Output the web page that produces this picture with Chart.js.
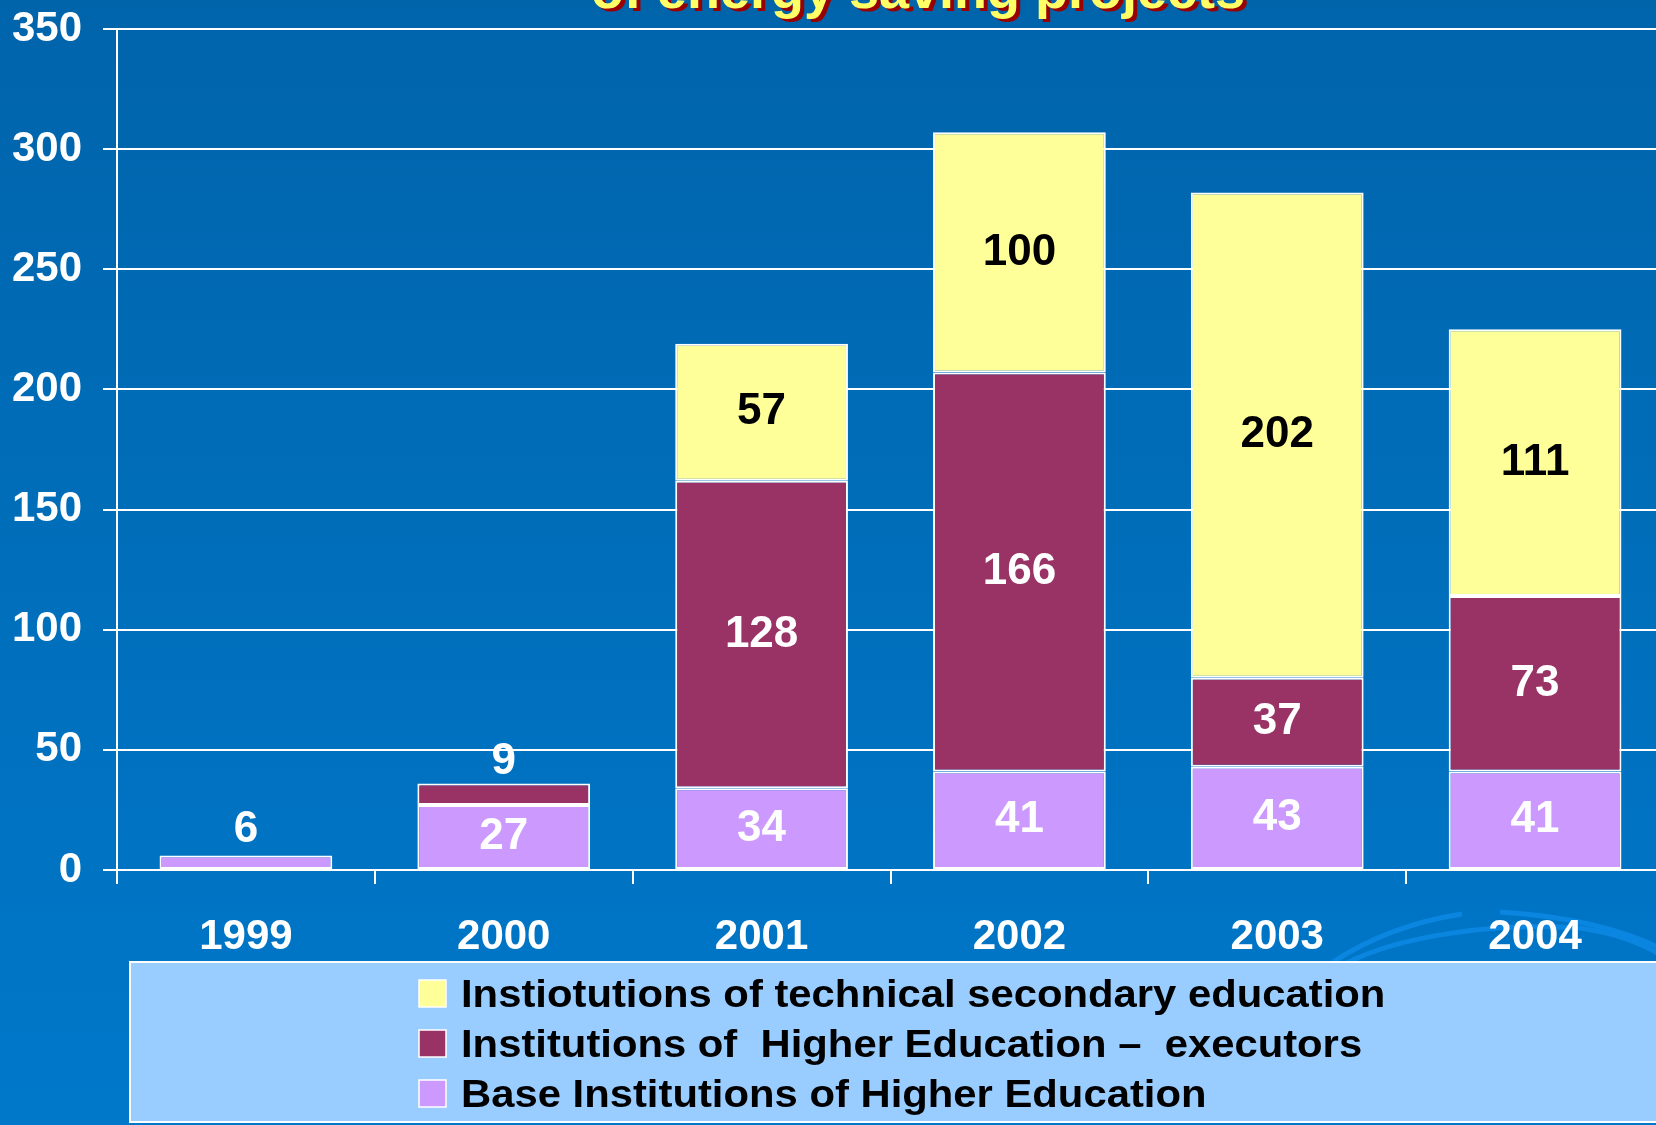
<!DOCTYPE html>
<html>
<head>
<meta charset="utf-8">
<script src="https://cdn.jsdelivr.net/npm/chart.js@4.4.1/dist/chart.umd.min.js"></script>
<style>
  html, body { margin: 0; padding: 0; overflow: hidden; background: #006EBA; }
  #wrap { width: 1664px; height: 1125px; }
</style>
</head>
<body>
<div id="wrap"><canvas id="chart" width="1664" height="1125"></canvas></div>
<script>
// data
const years = ["1999", "2000", "2001", "2002", "2003", "2004"];
const baseInstitutions = [6, 27, 34, 41, 43, 41];
const executors = [null, 9, 128, 166, 37, 73];
const technicalSecondary = [null, null, 57, 100, 202, 111];

const seriesNames = [
  "Base Institutions of Higher Education",
  "Institutions of  Higher Education \u2013  executors",
  "Instiotutions of technical secondary education"
];
const titleText = "of energy saving projects";

const COLORS = {
  base: "#CC99FF",
  exec: "#993366",
  tech: "#FFFF99"
};
const FONT = "'Liberation Sans', Arial, sans-serif";

const backdrop = {
  id: "backdrop",
  beforeDraw(chart) {
    const ctx = chart.ctx;
    const g = ctx.createLinearGradient(0, 0, 0, chart.height);
    g.addColorStop(0, "#0064AB");
    g.addColorStop(1, "#0078CA");
    ctx.save();
    ctx.fillStyle = g;
    ctx.fillRect(0, 0, chart.width, chart.height);

    // faint swirl in the lower right corner
    ctx.strokeStyle = "#0A86E0";
    ctx.lineWidth = 5;
    ctx.beginPath();
    ctx.moveTo(1333, 962);
    ctx.quadraticCurveTo(1390, 925, 1462, 914);
    ctx.moveTo(1500, 912);
    ctx.quadraticCurveTo(1600, 918, 1664, 950);
    ctx.stroke();
    ctx.beginPath();
    ctx.moveTo(1345, 964);
    ctx.bezierCurveTo(1400, 935, 1500, 922, 1580, 928);
    ctx.quadraticCurveTo(1630, 935, 1664, 957);
    ctx.stroke();

    // title, mostly cut off by the top edge
    ctx.font = "bold 54px " + FONT;
    ctx.textAlign = "center";
    ctx.textBaseline = "alphabetic";
    ctx.fillStyle = "#990000";
    ctx.fillText(titleText, 922, 11);
    ctx.fillStyle = "#FFFF66";
    ctx.fillText(titleText, 918, 8);
    ctx.restore();
  }
};

const barLabels = {
  id: "barLabels",
  afterDatasetsDraw(chart) {
    const ctx = chart.ctx;
    ctx.save();
    ctx.font = "bold 44px " + FONT;
    ctx.textAlign = "center";
    ctx.textBaseline = "middle";
    chart.data.datasets.forEach((ds, di) => {
      const meta = chart.getDatasetMeta(di);
      meta.data.forEach((bar, i) => {
        const v = ds.data[i];
        if (v === null || v === undefined) return;
        const h = bar.base - bar.y;
        let y = (bar.y + bar.base) / 2;
        if (h < 40) y -= 32;
        ctx.fillStyle = ds.labelColor;
        ctx.fillText(String(v), bar.x, y);
      });
    });
    ctx.restore();
  }
};

const legendBox = {
  id: "legendBox",
  afterDraw(chart) {
    const ctx = chart.ctx;
    ctx.save();
    ctx.fillStyle = "#99CCFF";
    ctx.fillRect(130, 962, 1560, 160);
    ctx.strokeStyle = "#FFFFFF";
    ctx.lineWidth = 2;
    ctx.strokeRect(130, 962, 1560, 160);

    const items = chart.data.datasets.slice().reverse();
    items.forEach((ds, k) => {
      const baseline = 1007 + k * 50;
      ctx.fillStyle = ds.backgroundColor;
      ctx.fillRect(419, baseline - 27, 27, 27);
      ctx.strokeStyle = "#FFFFFF";
      ctx.lineWidth = 1.5;
      ctx.strokeRect(419, baseline - 27, 27, 27);

      ctx.save();
      ctx.translate(461, baseline);
      ctx.scale(1.1, 1);
      ctx.font = "bold 38px " + FONT;
      ctx.fillStyle = "#000000";
      ctx.textAlign = "left";
      ctx.textBaseline = "alphabetic";
      ctx.fillText(ds.label, 0, 0);
      ctx.restore();
    });
    ctx.restore();
  }
};

new Chart(document.getElementById("chart"), {
  type: "bar",
  data: {
    labels: years,
    datasets: [
      { label: seriesNames[0], data: baseInstitutions, backgroundColor: COLORS.base, labelColor: "#FFFFFF" },
      { label: seriesNames[1], data: executors, backgroundColor: COLORS.exec, labelColor: "#FFFFFF" },
      { label: seriesNames[2], data: technicalSecondary, backgroundColor: COLORS.tech, labelColor: "#000000" }
    ]
  },
  options: {
    responsive: false,
    animation: false,
    layout: { padding: { top: 29, right: 0, bottom: 165, left: 0 } },
    datasets: {
      bar: {
        barPercentage: 0.67,
        categoryPercentage: 1.0,
        borderColor: "#FFFFFF",
        borderWidth: 2,
        borderSkipped: false
      }
    },
    scales: {
      x: {
        stacked: true,
        afterFit: (scale) => { scale.height = 90; },
        grid: { offset: true, drawOnChartArea: false, color: "#FFFFFF", lineWidth: 2, tickLength: 14 },
        border: { display: true, color: "#FFFFFF", width: 2 },
        ticks: {
          color: "#FFFFFF",
          font: { family: FONT, size: 42, weight: "bold" },
          padding: 28,
          maxRotation: 0,
          autoSkip: false
        }
      },
      y: {
        stacked: true,
        min: 0,
        max: 350,
        afterFit: (scale) => { scale.width = 117; },
        grid: { color: "#FFFFFF", lineWidth: 2, tickLength: 14 },
        border: { display: true, color: "#FFFFFF", width: 2 },
        ticks: {
          stepSize: 50,
          color: "#FFFFFF",
          font: { family: FONT, size: 42, weight: "bold", lineHeight: 0.3 },
          padding: 21
        }
      }
    },
    plugins: {
      legend: { display: false },
      tooltip: { enabled: false }
    }
  },
  plugins: [backdrop, barLabels, legendBox]
});
</script>
</body>
</html>
